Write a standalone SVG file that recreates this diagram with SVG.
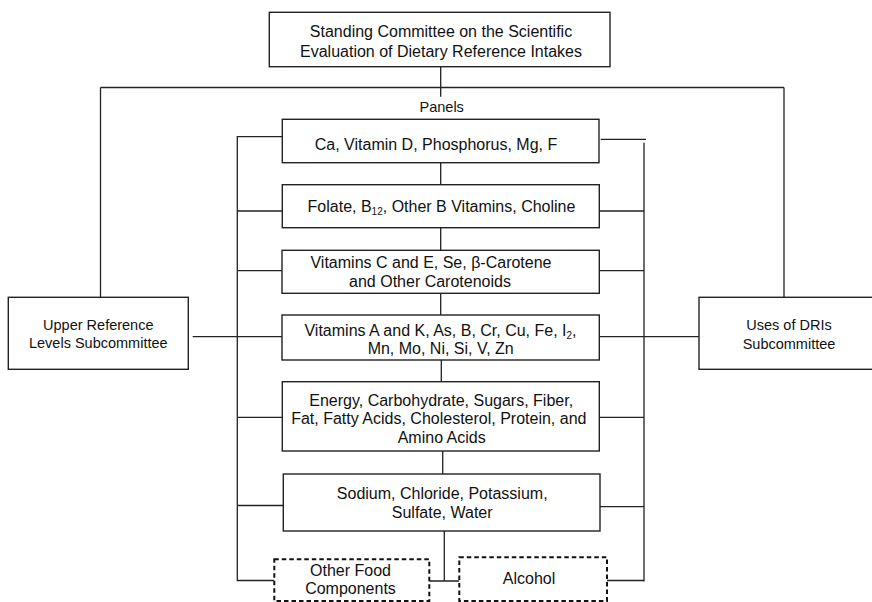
<svg xmlns="http://www.w3.org/2000/svg" width="872" height="602" viewBox="0 0 872 602">
<style>
.box{fill:#fff;stroke:#222;stroke-width:1.4}
.dash{fill:#fff;stroke:#111;stroke-width:2;stroke-dasharray:4.5 3}
.ln{fill:none;stroke:#222;stroke-width:1.3}
text{font-family:"Liberation Sans",Arial,sans-serif;fill:#111;text-anchor:middle}
.t16{font-size:16px}
.t14{font-size:14.5px}
.sub{font-size:10px}
</style>
<rect width="872" height="602" fill="#fff"/>
<g id="connectors">
<path class="ln" d="M440.7 67V96.7M100.5 87.5H784M100.5 87.5V297.3M784 87.5V297.3"/>
<path class="ln" d="M282.3 136.7H237.3V580.5H274.3M600.7 139.3H646M644 142.7V581.5M607 580.5H644"/>
<path class="ln" d="M440.7 162.7V184.7M440.7 227.7V250.3M440.7 293.3V315M441.3 360V381.7M442.7 451V474M444.3 531V581M429.3 581H459.3"/>
<path class="ln" d="M237.3 211H282.3M237.3 270.7H282M192.7 336.7H282M237.3 417.3H282.3M237.3 505.5H283.3"/>
<path class="ln" d="M599.3 211H644M599.3 270.7H644M599.3 336.7H699M599.3 417.3H644M600 506.7H644"/>
</g>
<g id="standing-committee">
<rect class="box" x="269.3" y="12.3" width="340.7" height="54.4"/>
<text class="t16" x="441" y="36.7">Standing Committee on the Scientific</text>
<text class="t16" x="441" y="57.3">Evaluation of Dietary Reference Intakes</text>
</g>
<g id="panels-label">
<text class="t14" x="441.7" y="112.3">Panels</text>
</g>
<g id="panel-ca">
<rect class="box" x="282.3" y="119.3" width="316.7" height="43.4"/>
<text class="t16" x="436" y="150">Ca, Vitamin D, Phosphorus, Mg, F</text>
</g>
<g id="panel-folate">
<rect class="box" x="282.3" y="184.7" width="317" height="43"/>
<text class="t16" x="441.5" y="211.7">Folate, B<tspan class="sub" dy="3">12</tspan><tspan dy="-3">, Other B Vitamins, Choline</tspan></text>
</g>
<g id="panel-vitc">
<rect class="box" x="282" y="250.3" width="317.3" height="43"/>
<text class="t16" x="431" y="268.3">Vitamins C and E, Se, β-Carotene</text>
<text class="t16" x="430" y="287.3">and Other Carotenoids</text>
</g>
<g id="panel-vita">
<rect class="box" x="282" y="315" width="317.3" height="45"/>
<text class="t16" x="440.5" y="335.7">Vitamins A and K, As, B, Cr, Cu, Fe, I<tspan class="sub" dy="3">2</tspan><tspan dy="-3">,</tspan></text>
<text class="t16" x="440.7" y="354">Mn, Mo, Ni, Si, V, Zn</text>
</g>
<g id="panel-energy">
<rect class="box" x="282.3" y="381.7" width="317" height="69.3"/>
<text class="t16" x="441.2" y="405.7">Energy, Carbohydrate, Sugars, Fiber,</text>
<text class="t16" x="438.8" y="424">Fat, Fatty Acids, Cholesterol, Protein, and</text>
<text class="t16" x="441.7" y="443.3">Amino Acids</text>
</g>
<g id="panel-sodium">
<rect class="box" x="283.3" y="474" width="316.7" height="57"/>
<text class="t16" x="442.2" y="499.3">Sodium, Chloride, Potassium,</text>
<text class="t16" x="442.2" y="518.3">Sulfate, Water</text>
</g>
<g id="other-food">
<rect class="dash" x="274.3" y="559.3" width="155" height="41.7"/>
<text class="t16" x="350.5" y="576">Other Food</text>
<text class="t16" x="350.5" y="594.3">Components</text>
</g>
<g id="alcohol">
<rect class="dash" x="459.3" y="557.3" width="147.7" height="43.7"/>
<text class="t16" x="529" y="584.3">Alcohol</text>
</g>
<g id="upper-reference">
<rect class="box" x="8.3" y="297.3" width="180" height="72"/>
<text class="t14" x="98.3" y="330">Upper Reference</text>
<text class="t14" x="98.3" y="348.3">Levels Subcommittee</text>
</g>
<g id="uses-dris">
<rect class="box" x="699" y="297.3" width="182" height="72"/>
<text class="t14" x="789" y="330">Uses of DRIs</text>
<text class="t14" x="789" y="349.3">Subcommittee</text>
</g>
</svg>
